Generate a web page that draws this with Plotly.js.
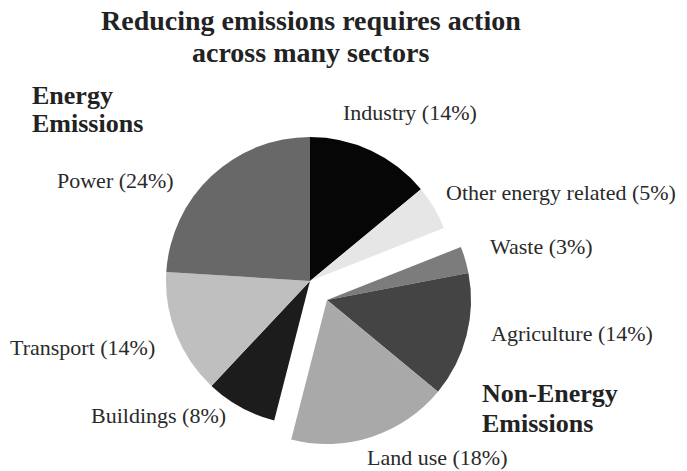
<!DOCTYPE html>
<html>
<head>
<meta charset="utf-8">
<script src="https://cdn.plot.ly/plotly-3.0.1.min.js"></script>
<style>html,body{margin:0;padding:0;background:#fff;}#chart{width:687px;height:471px;}</style>
</head>
<body>
<div id="chart"></div>
<script>
// ---- data ----
const sectors = ['Industry', 'Other energy related', 'Waste', 'Agriculture', 'Land use', 'Buildings', 'Transport', 'Power'];
const shares = [14, 5, 3, 14, 18, 8, 14, 24];
const groups = ['Energy', 'Energy', 'Non-Energy', 'Non-Energy', 'Non-Energy', 'Energy', 'Energy', 'Energy'];
const groupTitleLines = [['Energy', 'Emissions'], ['Non-Energy', 'Emissions']];
const chartTitleLines = ['Reducing emissions requires action', 'across many sectors'];

// ---- styles ----
const sliceColors = ['#060606', '#e6e6e6', '#7c7c7c', '#444444', '#a9a9a9', '#1c1c1c', '#bfbfbf', '#686868'];
const W = 687, H = 471;
const R = 144;
const groupCenters = { 'Energy': [310, 281], 'Non-Energy': [327, 300] };
const labelPos = [[410, 113], [561, 192], [541, 246], [572, 333], [437, 457], [158, 415], [82, 347], [115, 180]];
const groupTitlePos = [[[30, 96], [30, 124]], [[480, 393], [480, 423]]];
const titlePos = [[311, 21], [311, 53]];
const serif = 'Liberation Serif, Times New Roman, serif';

function domainFor(c) {
  return {
    x: [(c[0] - R) / W, (c[0] + R) / W],
    y: [(H - c[1] - R) / H, (H - c[1] + R) / H]
  };
}

const traces = ['Energy', 'Non-Energy'].map(g => ({
  type: 'pie',
  labels: sectors,
  values: shares,
  sort: false,
  direction: 'clockwise',
  rotation: 0,
  textinfo: 'none',
  hoverinfo: 'skip',
  marker: {
    colors: sectors.map((s, i) => groups[i] === g ? sliceColors[i] : 'rgba(0,0,0,0)'),
    line: { width: 0 }
  },
  domain: domainFor(groupCenters[g]),
  showlegend: false
}));

function ann(text, p, anchor, size, bold, color) {
  return {
    text: bold ? '<b>' + text + '</b>' : text,
    xref: 'paper', yref: 'paper',
    x: p[0] / W, y: 1 - p[1] / H,
    xanchor: anchor, yanchor: 'middle',
    showarrow: false,
    font: { family: serif, size: size, color: color }
  };
}

let annotations = sectors.map((s, i) => ann(s + ' (' + shares[i] + '%)', labelPos[i], 'center', 22, false, '#2a2a2a'));
groupTitleLines.forEach((lines, gi) => lines.forEach((t, li) => annotations.push(ann(t, groupTitlePos[gi][li], 'left', 26, true, '#222'))));
chartTitleLines.forEach((t, i) => annotations.push(ann(t, titlePos[i], 'center', 28, true, '#222')));

const layout = {
  width: W, height: H,
  margin: { l: 0, r: 0, t: 0, b: 0 },
  paper_bgcolor: '#fff',
  annotations: annotations,
  showlegend: false
};

Plotly.newPlot('chart', traces, layout, { displayModeBar: false, staticPlot: true });
</script>
</body>
</html>
